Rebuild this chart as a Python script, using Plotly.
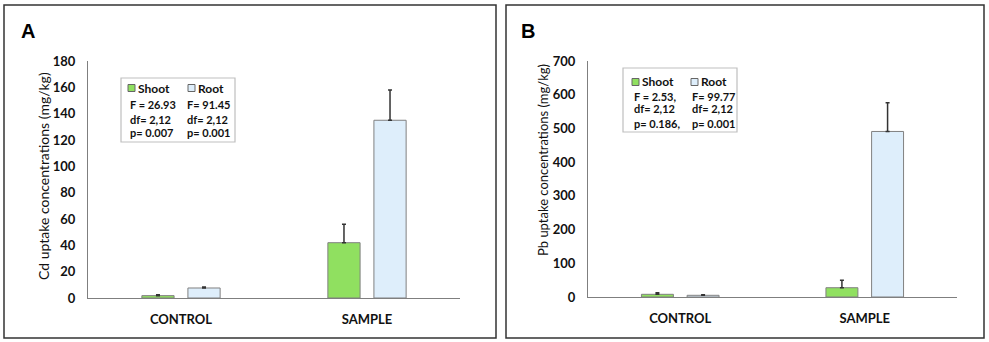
import plotly.graph_objects as go

W, H = 989, 342

categories = ["CONTROL", "SAMPLE"]
series_names = ["Shoot", "Root"]

cd_shoot = [1.8, 42]
cd_shoot_err = [0.6, 14]
cd_root = [7.6, 135]
cd_root_err = [0.8, 23]

pb_shoot = [8, 27.5]
pb_shoot_err = [4.5, 22]
pb_root = [5, 491]
pb_root_err = [2, 85]

cd_ticks = list(range(0, 181, 20))
pb_ticks = list(range(0, 701, 100))

legend_a = [["F = 26.93", "df= 2,12", "p= 0.007"], ["F= 91.45", "df= 2,12", "p= 0.001"]]
legend_b = [["F = 2.53,", "df= 2,12", "p= 0.186,"], ["F= 99.77", "df= 2,12", "p= 0.001"]]

GREEN = "#90e060"
BLUE = "#deeefb"
EDGE = "#808080"
FONT = "Lato"


def px(x):
    return x / W


def py(y):
    return 1 - y / H


fig = go.Figure()

panels = [
    dict(sh=cd_shoot, she=cd_shoot_err, rt=cd_root, rte=cd_root_err, xa="x", ya="y"),
    dict(sh=pb_shoot, she=pb_shoot_err, rt=pb_root, rte=pb_root_err, xa="x2", ya="y2"),
]
for p in panels:
    for name, vals, errs, col in [(series_names[0], p["sh"], p["she"], GREEN),
                                  (series_names[1], p["rt"], p["rte"], BLUE)]:
        fig.add_trace(go.Bar(
            x=categories, y=vals, name=name, xaxis=p["xa"], yaxis=p["ya"],
            marker=dict(color=col, line=dict(color=EDGE, width=1)),
            error_y=dict(type="data", array=errs, symmetric=False, arrayminus=[0] * len(errs),
                         color="#333333", thickness=1.5, width=2),
            showlegend=False,
        ))

axis_common = dict(showgrid=False, zeroline=False, showline=True, linecolor="#7f7f7f", linewidth=1.2,
                   ticks="", fixedrange=True, automargin=False)
fig.update_layout(
    width=W, height=H, margin=dict(l=0, r=0, t=0, b=0, pad=0, autoexpand=False),
    paper_bgcolor="white", plot_bgcolor="white",
    barmode="group", bargap=0.505, bargroupgap=0.30,
    font=dict(family=FONT, color="#111111"),
    xaxis=dict(domain=[px(88), px(460)], anchor="y", **axis_common,
               tickfont=dict(size=13, family=FONT, weight="bold"), ticklabelstandoff=9),
    yaxis=dict(domain=[py(298), py(61)], anchor="x", range=[0, 180], tickvals=cd_ticks, **axis_common,
               tickfont=dict(size=13, family=FONT, weight="bold"), ticklabelstandoff=9),
    xaxis2=dict(domain=[px(588), px(957)], anchor="y2", **axis_common,
                tickfont=dict(size=13, family=FONT, weight="bold"), ticklabelstandoff=9),
    yaxis2=dict(domain=[py(297), py(61)], anchor="x2", range=[0, 700], tickvals=pb_ticks, **axis_common,
                tickfont=dict(size=13, family=FONT, weight="bold"), ticklabelstandoff=9),
)

shapes = []
annotations = []

# panel borders
for x0, x1 in [(4, 496), (506, 984)]:
    shapes.append(dict(type="rect", xref="paper", yref="paper", x0=px(x0), x1=px(x1), y0=py(338), y1=py(5),
                       line=dict(color="#333333", width=1.5)))

# panel letters
annotations.append(dict(text="<b>A</b>", x=px(19), y=py(31), xref="paper", yref="paper", xanchor="left",
                        yanchor="middle", showarrow=False, font=dict(size=20, family="Liberation Sans", color="black")))
annotations.append(dict(text="<b>B</b>", x=px(519), y=py(31), xref="paper", yref="paper", xanchor="left",
                        yanchor="middle", showarrow=False, font=dict(size=20, family="Liberation Sans", color="black")))

# y titles
annotations.append(dict(text="Cd uptake concentrations (mg/kg)", x=px(43), y=py(176), xref="paper", yref="paper",
                        textangle=-90, showarrow=False, xanchor="center", yanchor="middle",
                        font=dict(size=14, family=FONT, color="#111111")))
annotations.append(dict(text="Pb uptake concentrations (mg/kg)", x=px(543), y=py(160), xref="paper", yref="paper",
                        textangle=-90, showarrow=False, xanchor="center", yanchor="middle",
                        font=dict(size=13, family=FONT, color="#111111")))


def legend_box(x0, y0, x1, y1, col1, col2, head_y, line_ys, stats):
    shapes.append(dict(type="rect", xref="paper", yref="paper", x0=px(x0), x1=px(x1), y0=py(y1), y1=py(y0),
                       line=dict(color="#bfbfbf", width=1.2), fillcolor="white"))
    for (cx, tx), color, name, st in [(col1, GREEN, series_names[0], stats[0]),
                                      (col2, BLUE, series_names[1], stats[1])]:
        shapes.append(dict(type="rect", xref="paper", yref="paper", x0=px(cx), x1=px(cx + 7),
                           y0=py(head_y + 3.5), y1=py(head_y - 3.5), fillcolor=color,
                           line=dict(color="#666666", width=1)))
        annotations.append(dict(text="<b>%s</b>" % name, x=px(cx + 8), y=py(head_y), xref="paper", yref="paper",
                                xanchor="left", yanchor="middle", showarrow=False,
                                font=dict(size=12, family=FONT, color="#111111")))
        for s, ly in zip(st, line_ys):
            annotations.append(dict(text="<b>%s</b>" % s, x=px(tx), y=py(ly), xref="paper", yref="paper",
                                    xanchor="left", yanchor="middle", showarrow=False,
                                    font=dict(size=11, family=FONT, color="#111111")))


legend_box(121, 78, 235, 142, (128, 128), (188, 185), 88, [104, 119, 133], legend_a)
legend_box(623, 68, 737, 132, (632, 632), (691, 690), 82, [96, 109, 123], legend_b)

fig.update_layout(shapes=shapes, annotations=annotations)
fig.write_html("out.html", config={"displayModeBar": False},
               post_script="document.body.style.margin='0';document.body.style.overflow='hidden';")
